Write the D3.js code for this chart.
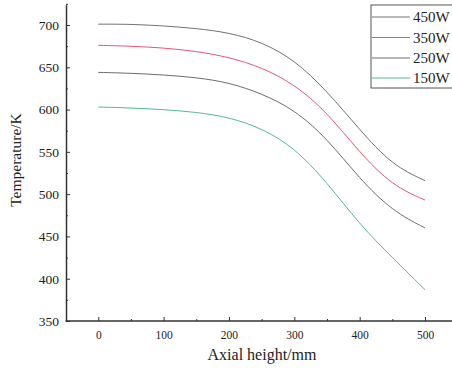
<!DOCTYPE html>
<html><head><meta charset="utf-8">
<script src="https://cdn.jsdelivr.net/npm/d3@7"></script>
<style>
html,body{margin:0;padding:0;background:#fff;}
svg{display:block;font-family:"Liberation Serif","Times New Roman",serif;}
</style></head>
<body><svg id="c" width="452" height="370"></svg>
<script>
const axialHeight = [0, 50, 100, 150, 200, 250, 300, 350, 400, 450, 500];
const seriesNames = ["450W", "350W", "250W", "150W"];
const t450 = [701, 701, 699, 696, 691, 680, 659, 622, 576, 534, 516];
const t350 = [676, 675, 673, 669, 662, 650, 630, 597, 549, 510, 493];
const t250 = [644, 643, 641, 638, 632, 619, 600, 566, 518, 480, 460];
const t150 = [603, 602, 600, 597, 591, 578, 555, 514, 464, 425, 387];
const xTicks = [0, 100, 200, 300, 400, 500];
const xMinor = [50, 150, 250, 350, 450];
const yTicks = [350, 400, 450, 500, 550, 600, 650, 700];
const yMinor = [375, 425, 475, 525, 575, 625, 675, 725];
const colors = ["#727272", "#e3587a", "#6c6c6c", "#52b89c"];

const svg = d3.select("#c");
const x = d3.scaleLinear().domain([-50, 550]).range([65.6, 457.7]);
const y = d3.scaleLinear().domain([350, 700]).range([321, 25]);
const yTop = 724;

// lines
const seriesVals = [t450, t350, t250, t150];
const line = d3.line().x(d => x(d[0])).y(d => y(d[1])).curve(d3.curveBasis);
seriesVals.forEach((vals, i) => {
  svg.append("path")
    .datum(axialHeight.map((h, j) => [h, vals[j]]))
    .attr("fill", "none").attr("stroke", colors[i]).attr("stroke-width", 1)
    .attr("d", line);
});

// axes
const axisColor = "#333";
const xAxis = svg.append("g").attr("transform", "translate(0,321)")
  .call(d3.axisBottom(x).tickValues(xTicks).tickSizeInner(-4).tickSizeOuter(0).tickPadding(10));
const xAxisMinor = svg.append("g").attr("transform", "translate(0,321)")
  .call(d3.axisBottom(x).tickValues(xMinor).tickSizeInner(-2).tickSizeOuter(0).tickFormat(""));
xAxisMinor.select(".domain").remove();
xAxis.select(".domain").attr("stroke", axisColor).attr("stroke-width", 1.5)
  .attr("d", `M${x(-50)},0H${x(550)}`);
xAxis.selectAll(".tick line").attr("stroke", axisColor).attr("stroke-width", 1);
xAxisMinor.selectAll(".tick line").attr("stroke", axisColor).attr("stroke-width", 1);
xAxis.selectAll(".tick text").attr("font-size", 11.5).attr("fill", "#222")
  .attr("font-family", "Liberation Serif");

const yAx = d3.scaleLinear().domain([350, yTop]).range([y(350), y(yTop)]);
const yAxis = svg.append("g").attr("transform", "translate(66,0)")
  .call(d3.axisLeft(yAx).tickValues(yTicks).tickSizeInner(-4).tickSizeOuter(0).tickPadding(7));
const yAxisMinor = svg.append("g").attr("transform", "translate(66,0)")
  .call(d3.axisLeft(yAx).tickValues(yMinor).tickSizeInner(-2).tickSizeOuter(0).tickFormat(""));
yAxisMinor.select(".domain").remove();
yAxis.select(".domain").attr("stroke", axisColor).attr("stroke-width", 1.5);
yAxis.selectAll(".tick line").attr("stroke", axisColor).attr("stroke-width", 1);
yAxisMinor.selectAll(".tick line").attr("stroke", axisColor).attr("stroke-width", 1);
yAxis.selectAll(".tick text").attr("font-size", 13.5).attr("fill", "#222")
  .attr("font-family", "Liberation Serif");

// titles
svg.append("text").attr("x", 262).attr("y", 360).attr("text-anchor", "middle")
  .attr("font-size", 16).attr("fill", "#222").text("Axial height/mm");
svg.append("text").attr("transform", "translate(21,160) rotate(-90)").attr("text-anchor", "middle")
  .attr("font-size", 15.5).attr("fill", "#222").text("Temperature/K");

// legend
const lg = svg.append("g");
lg.append("rect").attr("x", 371).attr("y", 5).attr("width", 90).attr("height", 83)
  .attr("fill", "#fff").attr("stroke", "#555").attr("stroke-width", 1);
const rowY = [17, 37.5, 58, 78];
seriesNames.forEach((n, i) => {
  lg.append("line").attr("x1", 372).attr("x2", 410).attr("y1", rowY[i]).attr("y2", rowY[i])
    .attr("stroke", colors[i]).attr("stroke-width", 1);
  lg.append("text").attr("x", 413).attr("y", rowY[i]).attr("dy", "0.35em")
    .attr("font-size", 15).attr("fill", "#222").text(n);
});
</script></body></html>
